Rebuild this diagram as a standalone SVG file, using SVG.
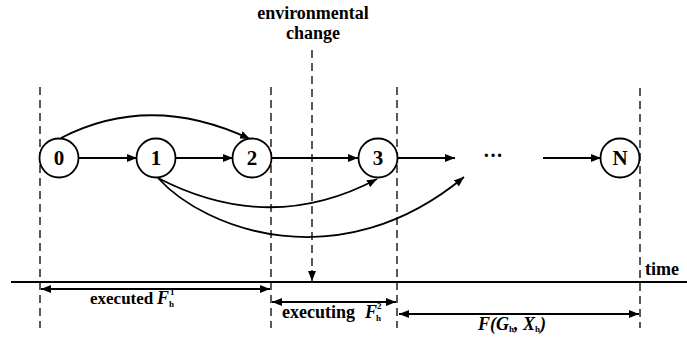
<svg xmlns="http://www.w3.org/2000/svg" width="687" height="339" viewBox="0 0 687 339">
<style>
.dash{stroke:#000;stroke-width:1.3;stroke-dasharray:8,5;fill:none}
.ln{stroke:#000;stroke-width:1.8;fill:none}
.nd{fill:#fff;stroke:#000;stroke-width:1.8}
</style>
<defs>
<marker id="ah" viewBox="0 0 10 8" refX="10" refY="4" markerWidth="10" markerHeight="8" markerUnits="userSpaceOnUse" orient="auto-start-reverse">
<path d="M0,0 L10,4 L0,8 Z" fill="#000"/>
</marker>
</defs>
<g id="guides">
<line class="dash" x1="40" y1="87" x2="40" y2="328"/>
<line class="dash" x1="271" y1="87" x2="271" y2="328"/>
<line class="dash" x1="397" y1="87" x2="397" y2="328"/>
<line class="dash" x1="640" y1="88" x2="640" y2="328"/>
</g>
<g id="timeline">
<line x1="11" y1="282" x2="687" y2="282" stroke="#000" stroke-width="2"/>
<text x="645" y="275" style="font-family:'Liberation Serif',serif;font-size:18px;font-weight:bold">time</text>
</g>
<g id="env-change">
<text x="313" y="19" text-anchor="middle" style="font-family:'Liberation Serif',serif;font-size:18px;font-weight:bold">environmental</text>
<text x="313" y="39" text-anchor="middle" style="font-family:'Liberation Serif',serif;font-size:18px;font-weight:bold">change</text>
<line class="dash" x1="312" y1="50" x2="312" y2="272"/>
<line x1="312" y1="270" x2="312" y2="281" stroke="#000" stroke-width="1.3" marker-end="url(#ah)"/>
</g>
<g id="connectors">
<line class="ln" x1="79" y1="158" x2="137" y2="158" marker-end="url(#ah)"/>
<line class="ln" x1="175" y1="158" x2="233" y2="158" marker-end="url(#ah)"/>
<line class="ln" x1="272" y1="158" x2="358" y2="158" marker-end="url(#ah)"/>
<line class="ln" x1="398" y1="158" x2="455" y2="158" marker-end="url(#ah)"/>
<line class="ln" x1="543" y1="158" x2="601" y2="158" marker-end="url(#ah)"/>
<path class="ln" d="M61,138 Q150,92 250,139" marker-end="url(#ah)"/>
<path class="ln" d="M158,178 Q270,236 377,179" marker-end="url(#ah)"/>
<path class="ln" d="M158,178 C205,230 340,280 464,177" marker-end="url(#ah)"/>
</g>
<g id="node-0"><circle class="nd" cx="59" cy="158" r="19.5"/><text x="59" y="165" text-anchor="middle" style="font-family:'Liberation Serif',serif;font-size:21px;font-weight:bold">0</text></g>
<g id="node-1"><circle class="nd" cx="156" cy="158" r="19.5"/><text x="156" y="165" text-anchor="middle" style="font-family:'Liberation Serif',serif;font-size:21px;font-weight:bold">1</text></g>
<g id="node-2"><circle class="nd" cx="252" cy="158" r="19.5"/><text x="252" y="165" text-anchor="middle" style="font-family:'Liberation Serif',serif;font-size:21px;font-weight:bold">2</text></g>
<g id="node-3"><circle class="nd" cx="378" cy="158" r="19.5"/><text x="378" y="165" text-anchor="middle" style="font-family:'Liberation Serif',serif;font-size:21px;font-weight:bold">3</text></g>
<g id="node-N"><circle class="nd" cx="620" cy="158" r="19.5"/><text x="620" y="165" text-anchor="middle" style="font-family:'Liberation Serif',serif;font-size:21px;font-weight:bold">N</text></g>
<g id="ellipsis"><text x="493" y="162" text-anchor="middle" style="font-family:'Liberation Serif',serif;font-size:20px;font-weight:bold">···</text></g>
<g id="spans">
<line class="ln" stroke-width="1.5" x1="41" y1="289" x2="270" y2="289" marker-start="url(#ah)" marker-end="url(#ah)"/>
<text x="90" y="304" style="font-family:'Liberation Serif',serif;font-size:17px;font-weight:bold">executed</text>
<text x="157" y="304" style="font-family:'Liberation Serif',serif;font-size:18px;font-weight:bold;font-style:italic">F</text>
<text x="170" y="295" style="font-family:'Liberation Serif',serif;font-size:9px;font-weight:bold">1</text>
<text x="169" y="307" style="font-family:'Liberation Serif',serif;font-size:9px;font-weight:bold">h</text>
<line class="ln" stroke-width="1.5" x1="272" y1="302" x2="396" y2="302" marker-start="url(#ah)" marker-end="url(#ah)"/>
<text x="282" y="318" style="font-family:'Liberation Serif',serif;font-size:18px;font-weight:bold">executing</text>
<text x="365" y="318" style="font-family:'Liberation Serif',serif;font-size:18px;font-weight:bold;font-style:italic">F</text>
<text x="377" y="309" style="font-family:'Liberation Serif',serif;font-size:9px;font-weight:bold">2</text>
<text x="376" y="321" style="font-family:'Liberation Serif',serif;font-size:9px;font-weight:bold">h</text>
<line class="ln" stroke-width="1.5" x1="399" y1="314" x2="639" y2="314" marker-start="url(#ah)" marker-end="url(#ah)"/>
<text x="478" y="330" style="font-family:'Liberation Serif',serif;font-size:18px;font-weight:bold;font-style:italic">F(G<tspan dy="2" style="font-size:9px;font-style:normal">h</tspan><tspan dy="-2">, X</tspan><tspan dy="2" style="font-size:9px;font-style:normal">h</tspan><tspan dy="-2">)</tspan></text>
</g>
</svg>
